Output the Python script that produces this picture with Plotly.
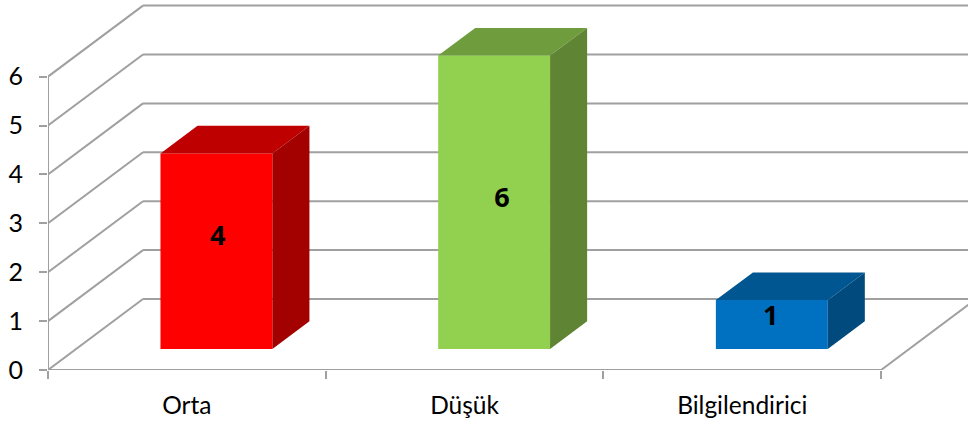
import plotly.graph_objects as go

categories = ["Orta", "Düşük", "Bilgilendirici"]
values = [4, 6, 1]
label_heights = [2.27, 3.04, 0.63]
label_shifts = [0.005, 0.028, -0.004]
y_ticks = [0, 1, 2, 3, 4, 5, 6]
front_colors = ["#FF0000", "#92D050", "#0070C0"]
top_colors = ["#BF0000", "#6F9D3D", "#005691"]
side_colors = ["#A30000", "#5F8433", "#004A7E"]

W, H = 968, 428
ML, MB = 48, 58
CAT_PX, UNIT_PX = 277.7, 48.9
WALL_DX, WALL_DY = 95 / CAT_PX, 71 / UNIT_PX
BAR_DEPTH, BAR_FRONT = 0.39, 0.296
BAR_WIDTH, BAR_START = 0.403, 0.405
GRID = "#A0A0A0"
FONT = "Lato"

xr = [0, (W - ML) / CAT_PX]
yr = [0, (H - MB) / UNIT_PX]
n = len(categories)
shapes = []


def line(x0, y0, x1, y1):
    shapes.append(dict(type="line", xref="x", yref="y", x0=x0, y0=y0, x1=x1, y1=y1,
                       layer="below", line=dict(color=GRID, width=2)))


for t in y_ticks:
    line(0, t, WALL_DX, t + WALL_DY)
    line(WALL_DX, t + WALL_DY, n + WALL_DX, t + WALL_DY)
line(n, 0, n + WALL_DX, WALL_DY)

fig = go.Figure()
lefts = [i + BAR_START for i in range(n)]
base = BAR_FRONT * WALL_DY
ddx, ddy = BAR_DEPTH * WALL_DX, BAR_DEPTH * WALL_DY

fig.add_trace(go.Bar(x=[l + BAR_WIDTH / 2 for l in lefts], y=values, base=[base] * n,
                     width=BAR_WIDTH, marker=dict(color=front_colors, line=dict(width=0)),
                     hoverinfo="skip", showlegend=False))

for i, v in enumerate(values):
    l, r, t = lefts[i], lefts[i] + BAR_WIDTH, base + v
    fig.add_trace(go.Scatter(x=[l, r, r + ddx, l + ddx, l], y=[t, t, t + ddy, t + ddy, t],
                             mode="lines", fill="toself", fillcolor=top_colors[i],
                             line=dict(width=0), hoverinfo="skip", showlegend=False))
    fig.add_trace(go.Scatter(x=[r, r + ddx, r + ddx, r, r], y=[base, base + ddy, t + ddy, t, base],
                             mode="lines", fill="toself", fillcolor=side_colors[i],
                             line=dict(width=0), hoverinfo="skip", showlegend=False))

fig.add_trace(go.Scatter(x=[0, 0, n], y=[y_ticks[-1], 0, 0], mode="lines", cliponaxis=False,
                         line=dict(color=GRID, width=2), hoverinfo="skip", showlegend=False))

fig.add_trace(go.Scatter(x=[l + BAR_WIDTH / 2 + s for l, s in zip(lefts, label_shifts)],
                         y=[base + h for h in label_heights],
                         text=[str(v) for v in values], mode="text",
                         textfont=dict(family="Open Sans", size=27, color="#000000", weight=700),
                         hoverinfo="skip", showlegend=False))

fig.update_layout(
    width=W, height=H, autosize=False, margin=dict(l=ML, r=0, t=0, b=MB),
    paper_bgcolor="white", plot_bgcolor="white", shapes=shapes, showlegend=False,
    font=dict(family=FONT, color="#000000"),
    xaxis=dict(range=xr, showgrid=False, zeroline=False, showline=False,
               tickvals=[i + 0.5 for i in range(n)], ticktext=categories, ticks="",
               tickfont=dict(family=FONT, size=24.5), ticklabelstandoff=18,
               minor=dict(tickvals=list(range(n + 1)), ticks="outside", ticklen=8,
                          tickcolor=GRID, tickwidth=2, showgrid=False)),
    yaxis=dict(range=yr, showgrid=False, zeroline=False, showline=False,
               tickvals=y_ticks, ticks="outside", ticklen=8, tickcolor=GRID, tickwidth=2,
               tickfont=dict(family=FONT, size=25), ticklabelstandoff=11),
)
fig.write_html("out.html", config=dict(displayModeBar=False),
               post_script="document.body.style.margin='0';")
